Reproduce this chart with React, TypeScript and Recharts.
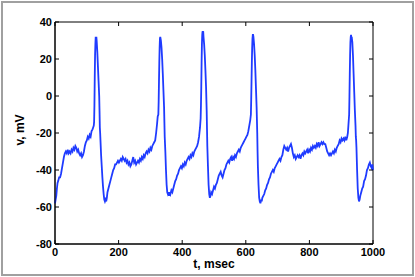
import React from 'react';
import { LineChart, Line, XAxis, YAxis, ReferenceArea } from 'recharts';

// membrane potential trace, t in msec, v in mV
const timeMs = [
  0, 2, 4, 6, 8, 10, 13, 16, 19, 22,
  25, 28, 31, 34, 37, 40, 43, 46, 49, 52,
  55, 58, 61, 64, 67, 70, 73, 76, 79, 82,
  85, 88, 91, 94, 97, 100, 103, 106, 109, 112,
  115, 118, 120, 122, 123, 124, 125, 126, 127, 128,
  129, 130, 131, 133, 135, 137, 139, 140, 141, 142,
  143, 145, 147, 149, 151, 153, 155, 157, 159, 161,
  163, 165, 168, 171, 174, 177, 180, 183, 186, 189,
  192, 195, 198, 201, 204, 207, 210, 213, 216, 219,
  222, 225, 228, 231, 234, 237, 240, 243, 246, 249,
  252, 255, 258, 261, 264, 267, 270, 273, 276, 279,
  282, 285, 288, 291, 294, 297, 300, 303, 306, 309,
  312, 315, 318, 321, 323, 325, 326, 327, 328, 329,
  330, 331, 332, 333, 335, 337, 339, 341, 343, 344,
  345, 347, 349, 351, 353, 355, 357, 359, 361, 363,
  366, 369, 372, 375, 378, 381, 384, 387, 390, 393,
  396, 399, 402, 405, 408, 411, 414, 417, 420, 423,
  426, 429, 432, 435, 438, 441, 444, 447, 450, 453,
  456, 458, 459, 460, 461, 462, 463, 464, 465, 466,
  467, 469, 471, 473, 475, 477, 478, 479, 481, 483,
  485, 487, 489, 491, 494, 497, 500, 503, 506, 509,
  512, 515, 518, 521, 524, 527, 530, 533, 536, 539,
  542, 545, 548, 551, 554, 557, 560, 563, 566, 569,
  572, 575, 578, 581, 584, 587, 590, 593, 596, 599,
  602, 605, 608, 611, 614, 616, 617, 618, 619, 620,
  621, 622, 623, 624, 626, 628, 630, 632, 634, 636,
  637, 638, 640, 642, 644, 646, 648, 650, 652, 655,
  658, 661, 664, 667, 670, 673, 676, 679, 682, 685,
  688, 691, 694, 697, 700, 703, 706, 709, 712, 715,
  718, 721, 724, 727, 730, 733, 736, 739, 742, 745,
  748, 751, 754, 757, 760, 763, 766, 769, 772, 775,
  778, 781, 784, 787, 790, 793, 796, 799, 802, 805,
  808, 811, 814, 817, 820, 823, 826, 829, 832, 835,
  838, 841, 844, 847, 850, 853, 856, 859, 862, 865,
  868, 871, 874, 877, 880, 883, 886, 889, 892, 895,
  898, 901, 904, 907, 910, 913, 916, 919, 921, 923,
  925, 926, 927, 928, 929, 930, 931, 932, 933, 935,
  937, 939, 941, 943, 945, 946, 947, 948, 950, 952,
  954, 956, 958, 960, 963, 966, 969, 972, 975, 978,
  981, 984, 987, 990, 993, 996, 998, 1000,
];

const voltageMv = [
  -58, -56, -54, -50, -47, -46, -44, -44, -42, -39,
  -36, -33, -31, -30, -31, -29, -31, -30, -31, -29,
  -30, -28, -29, -27, -28, -30, -29, -31, -32, -31,
  -33, -32, -30, -27, -25, -24, -22, -23, -21, -22,
  -19, -18, -17, -16, -14, -5, 10, 22, 28, 32,
  31, 32, 30, 24, 16, 8, 0, -8, -17, -20,
  -24, -32, -38, -44, -49, -53, -56, -57, -56, -57,
  -55, -52, -50, -48, -46, -44, -42, -40, -39, -37,
  -37, -36, -35, -36, -35, -34, -35, -33, -34, -35,
  -34, -36, -35, -37, -36, -38, -37, -35, -33, -36,
  -35, -37, -36, -35, -36, -34, -35, -33, -34, -32,
  -33, -31, -30, -31, -29, -30, -28, -29, -27, -26,
  -25, -24, -20, -15, -11, -10, -3, 8, 18, 26,
  31, 32, 31, 30, 26, 20, 12, 3, -6, -14,
  -22, -30, -40, -48, -52, -53, -52, -54, -52, -53,
  -51, -52, -50, -48, -46, -45, -43, -42, -40, -39,
  -38, -39, -37, -38, -36, -37, -35, -34, -33, -34,
  -32, -33, -31, -32, -30, -29, -28, -27, -25, -22,
  -17, -12, -5, 5, 18, 28, 33, 35, 34, 35,
  32, 28, 22, 14, 5, -8, -18, -27, -38, -48,
  -53, -55, -54, -52, -53, -51, -49, -50, -48, -47,
  -45, -43, -42, -41, -43, -44, -42, -40, -39, -37,
  -36, -35, -36, -34, -33, -35, -33, -34, -32, -33,
  -31, -30, -29, -30, -28, -27, -26, -25, -24, -23,
  -22, -21, -19, -16, -13, -10, -2, 8, 18, 26,
  31, 33, 33, 32, 28, 22, 14, 4, -6, -20,
  -30, -38, -48, -55, -57, -58, -56, -57, -55, -54,
  -53, -51, -50, -48, -47, -45, -44, -42, -41, -40,
  -41, -39, -38, -37, -36, -35, -34, -35, -33, -32,
  -29, -27, -28, -29, -28, -30, -28, -27, -26, -28,
  -31, -33, -32, -34, -33, -32, -33, -32, -34, -32,
  -31, -32, -30, -31, -30, -29, -31, -29, -30, -28,
  -29, -27, -28, -27, -28, -26, -27, -25, -27, -26,
  -25, -26, -25, -26, -26, -28, -30, -31, -32, -31,
  -32, -31, -30, -31, -29, -30, -28, -27, -26, -24,
  -25, -23, -24, -23, -24, -22, -24, -22, -20, -15,
  -10, 0, 12, 22, 29, 32, 33, 31, 32, 29,
  22, 12, 2, -8, -16, -22, -24, -28, -40, -50,
  -55, -57, -56, -54, -52, -50, -49, -46, -45, -43,
  -40, -39, -37, -36, -38, -39, -37, -40,
];

const xTicks = [0, 200, 400, 600, 800, 1000];
const yTicks = [-80, -60, -40, -20, 0, 20, 40];

const data = timeMs.map((t, i) => ({ t, v: voltageMv[i] }));

const FONT = '"Liberation Sans", Arial, Helvetica, sans-serif';
const TICK = 4;
// plot box edges (from the margins below)
const PLOT_TOP = 22;
const PLOT_RIGHT = 373;

// matlab-style inward ticks on all four sides, labels on left/bottom
const BottomTick = (p: any) => (
  <g>
    <line x1={p.x} y1={p.y} x2={p.x} y2={p.y - TICK} stroke="#000" />
    <line x1={p.x} y1={PLOT_TOP} x2={p.x} y2={PLOT_TOP + TICK} stroke="#000" />
    <text x={p.x} y={p.y + 12} textAnchor="middle" fontFamily={FONT} fontWeight="bold" fontSize={11} fill="#000">
      {p.payload.value}
    </text>
  </g>
);

const LeftTick = (p: any) => (
  <g>
    <line x1={p.x} y1={p.y} x2={p.x + TICK} y2={p.y} stroke="#000" />
    <line x1={PLOT_RIGHT} y1={p.y} x2={PLOT_RIGHT - TICK} y2={p.y} stroke="#000" />
    <text x={p.x - 3} y={p.y + 4} textAnchor="end" fontFamily={FONT} fontWeight="bold" fontSize={11} fill="#000">
      {p.payload.value}
    </text>
  </g>
);

export default function App() {
  return (
    <div style={{ position: 'relative', width: 415, height: 277, background: '#fff' }}>
      <style>{'body{margin:0}'}</style>
      <div
        style={{
          position: 'absolute', left: 1, top: 1, width: 409, height: 271,
          border: '2px solid #a0a0a0',
        }}
      />
      <LineChart
        width={415}
        height={277}
        data={data}
        margin={{ top: PLOT_TOP, right: 415 - PLOT_RIGHT, bottom: 0, left: 0 }}
        style={{ position: 'absolute', left: 0, top: 0 }}
      >
        <XAxis
          dataKey="t"
          type="number"
          domain={[0, 1000]}
          ticks={xTicks}
          height={33}
          tickSize={0}
          tickMargin={0}
          tickLine={false}
          tick={BottomTick}
          axisLine={{ stroke: '#000' }}
          interval={0}
          label={{
            content: () => (
              <text x={214} y={268} textAnchor="middle" fontFamily={FONT} fontWeight="bold" fontSize={12} fill="#000">
                t, msec
              </text>
            ),
          }}
        />
        <YAxis
          type="number"
          domain={[-80, 40]}
          ticks={yTicks}
          width={55}
          tickSize={0}
          tickMargin={0}
          tickLine={false}
          tick={LeftTick}
          axisLine={{ stroke: '#000' }}
          interval={0}
          label={{
            content: () => (
              <text
                x={24}
                y={130}
                transform="rotate(-90 24 130)"
                textAnchor="middle"
                fontFamily={FONT}
                fontWeight="bold"
                fontSize={12}
                fill="#000"
              >
                v, mV
              </text>
            ),
          }}
        />
        <ReferenceArea x1={0} x2={1000} y1={-80} y2={40} fill="none" stroke="#000" strokeWidth={1} />
        <Line
          type="linear"
          dataKey="v"
          stroke="#1f3bff"
          strokeWidth={1.8}
          dot={false}
          isAnimationActive={false}
        />
      </LineChart>
    </div>
  );
}
